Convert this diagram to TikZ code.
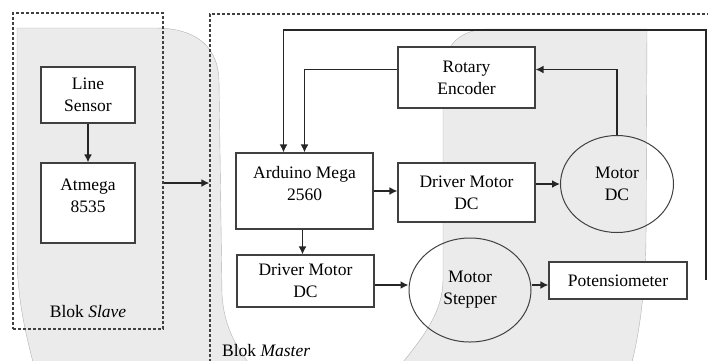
\documentclass[tikz,border=0pt]{standalone}
\usepackage{fontspec}
\setmainfont{Liberation Serif}
\usetikzlibrary{arrows.meta,shapes.geometric}
\definecolor{linegray}{HTML}{404040}
\definecolor{bgshade}{HTML}{EBEBEB}
\begin{document}
\begin{tikzpicture}[x=1pt, y=-1pt, >={Latex[length=8pt,width=8pt]},
    font=\fontsize{17.5}{22}\selectfont,
    box/.style={draw=linegray, line width=1.1pt, fill=white, align=center, inner sep=0pt},
    blob/.style={ellipse, draw=linegray, line width=1pt, align=center, inner sep=0pt},
    dashbox/.style={draw=linegray, line width=1.2pt, dash pattern=on 3pt off 2pt, inner sep=0pt},
    backdrop/.style={fill=bgshade, draw=black!30, line width=0.4pt},
    arr/.style={->, line width=1.6pt, black!85}]
    \useasboundingbox (0,0) rectangle (708,360);
    % shaded background
    \path[backdrop] (17,28) -- (155,28)
        .. controls (200,28) and (218,50) .. (219,80) -- (222,295)
        .. controls (224,325) and (235,345) .. (248,362) -- (33,362)
        .. controls (22,320) and (17,290) .. (17,250) -- cycle;
    \path[backdrop] (490,29) -- (647,29) -- (646,240)
        .. controls (645,290) and (640,330) .. (632,362) -- (403,362)
        .. controls (425,335) and (443,310) .. (443,280) -- (443,75)
        .. controls (443,45) and (460,29) .. (490,29) -- cycle;

    % Blok Slave
    \node[dashbox, minimum width=150pt, minimum height=316pt] (slave) at (88,171) {};
    \node[box, minimum width=94pt, minimum height=56pt] (sensor) at (88,95) {Line\\Sensor};
    \node[box, minimum width=94pt, minimum height=80pt] (atmega) at (88,203) {};
    \node[align=center, inner sep=0pt] (atmegatxt) at (88,196) {Atmega\\8535};
    \node (slavelbl) at (88,312) {Blok \textit{Slave}};

    % Blok Master
    \node[dashbox, minimum width=520pt, minimum height=380pt] (master) at (470,204) {};
    \node[anchor=base west, inner sep=0pt] (masterlbl) at (222,356) {Blok \textit{Master}};
    \node[box, minimum width=137pt, minimum height=61pt] (enc) at (466.5,77.5) {Rotary\\Encoder};
    \node[box, minimum width=137pt, minimum height=76pt] (ard) at (304.5,191) {};
    \node[align=center, inner sep=0pt] (ardtxt) at (304.5,184) {Arduino Mega\\2560};
    \node[box, minimum width=137pt, minimum height=59pt] (drv1) at (466.5,192.5) {Driver Motor\\DC};
    \node[blob, minimum width=113pt, minimum height=97pt] (mdc) at (617,184) {Motor\\DC};
    \node[box, minimum width=137pt, minimum height=52pt] (drv2) at (305.5,281) {Driver Motor\\DC};
    \node[blob, minimum width=122pt, minimum height=104pt] (stp) at (470,290) {Motor\\Stepper};
    \node[box, minimum width=138pt, minimum height=37pt] (pot) at (618,280.5) {Potensiometer};
    \coordinate (fb) at (706,280);
    \coordinate (fbtop) at (706,30);

    \draw[arr] (sensor) -- (atmega);
    \draw[arr] ([yshift=-12pt]slave.east) coordinate (s) -- (s -| master.west);
    \draw[arr] ([yshift=8pt]enc.west) -| (ard.north);
    \draw[arr] (fb) -- (fbtop) -| ([xshift=-21pt]ard.north);
    \draw[arr] (ard.east) -- (ard.east -| drv1.west);
    \draw[arr] (drv1.east |- mdc.west) -- (mdc.west);
    \draw[arr] (mdc.north) |- ([yshift=8pt]enc.east);
    \draw[arr] ([xshift=-2pt]ard.south) -- ([xshift=-2pt]ard.south |- drv2.north);
    \draw[arr] ([yshift=-4pt]drv2.east) -- ([yshift=-4pt]drv2.east -| stp.west);
    \draw[arr] ([yshift=5pt]stp.east) -- ([yshift=5pt]stp.east -| pot.west);
\end{tikzpicture}
\end{document}
